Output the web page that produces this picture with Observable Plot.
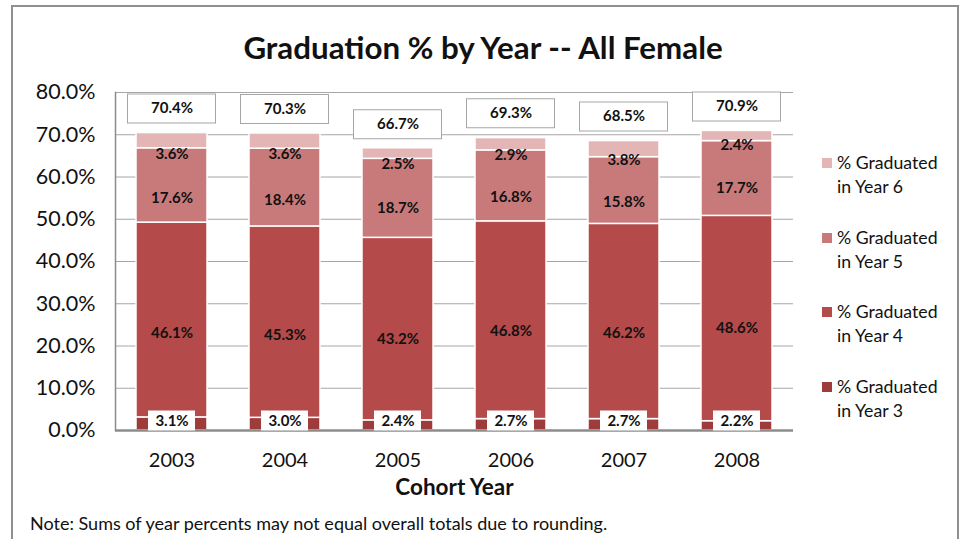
<!DOCTYPE html>
<html>
<head>
<meta charset="utf-8">
<script src="https://cdn.jsdelivr.net/npm/d3@7"></script>
<script src="https://cdn.jsdelivr.net/npm/@observablehq/plot@0.6"></script>
<style>
  body { margin: 0; background: #fff; font-family: Lato, "Open Sans", sans-serif; }
  #wrap { position: relative; width: 966px; height: 539px; overflow: hidden; background: #fff; }
  #frame { position: absolute; left: 11px; top: 5px; width: 948px; height: 560px; border: 2px solid #8f8f8f; box-sizing: border-box; }
  #title { position: absolute; left: 0; width: 966px; top: 27px; text-align: center; font-weight: bold; font-size: 31.3px; color: #111; line-height: 40px; }
  #chart { position: absolute; left: 0; top: 70px; }
  #legend { position: absolute; left: 822px; top: 152px; font-size: 17.7px; color: #111; }
  .item { position: relative; height: 74.5px; }
  .sw { position: absolute; left: 0; top: 6px; width: 10px; height: 10px; }
  .lab { position: absolute; left: 15px; top: -1px; line-height: 24px; white-space: nowrap; }
  #note { position: absolute; left: 30px; top: 512px; font-size: 18px; color: #111; }
</style>
</head>
<body>
<div id="wrap">
  <div id="frame"></div>
  <div id="title">Graduation % by Year -- All Female</div>
  <div id="chart"></div>
  <div id="legend"></div>
  <div id="note">Note: Sums of year percents may not equal overall totals due to rounding.</div>
</div>
<script>
const years = ["2003", "2004", "2005", "2006", "2007", "2008"];
const year3 = [3.1, 3.0, 2.4, 2.7, 2.7, 2.2];
const year4 = [46.1, 45.3, 43.2, 46.8, 46.2, 48.6];
const year5 = [17.6, 18.4, 18.7, 16.8, 15.8, 17.7];
const year6 = [3.6, 3.6, 2.5, 2.9, 3.8, 2.4];
const totals = [70.4, 70.3, 66.7, 69.3, 68.5, 70.9];
const seriesNames = ["% Graduated in Year 3", "% Graduated in Year 4", "% Graduated in Year 5", "% Graduated in Year 6"];
const seriesColors = ["#9e3c3c", "#b44a4a", "#c87a7a", "#e3b5b5"];
const yTicks = [0, 10, 20, 30, 40, 50, 60, 70, 80];

const seriesValues = [year3, year4, year5, year6];
const rows = [];
seriesValues.forEach((vals, si) => {
  years.forEach((y, i) => rows.push({year: y, series: seriesNames[si], value: vals[i]}));
});
const totalRows = years.map((y, i) => ({year: y, total: totals[i]}));
const baseRows = years.map((y, i) => ({year: y, value: year3[i]}));
const upperRows = rows.filter(d => d.series !== seriesNames[0]);

const fmt = v => v.toFixed(1) + "%";

const chart = Plot.plot({
  width: 966,
  height: 430,
  marginLeft: 115,
  marginRight: 173,
  marginTop: 22,
  marginBottom: 70,
  style: {fontFamily: "Lato, 'Open Sans', sans-serif", fontSize: "21.5px", color: "#111", background: "transparent"},
  x: {domain: years, paddingInner: 0.37, paddingOuter: 0.185, label: "Cohort Year", labelAnchor: "center", labelOffset: 64, tickSize: 0, tickPadding: 22},
  y: {domain: [0, 80], ticks: yTicks, tickFormat: fmt, label: null, tickSize: 0, tickPadding: 20},
  color: {domain: seriesNames, range: seriesColors},
  marks: [
    Plot.ruleY(yTicks.filter(t => t > 0), {stroke: "#a6a6a6", strokeWidth: 1}),
    Plot.frame({anchor: "left", stroke: "#8c8c8c", strokeWidth: 1.5}),
    Plot.barY(rows, Plot.stackY({x: "year", y: "value", fill: "series", order: seriesNames, stroke: "white", strokeWidth: 1.5})),
    Plot.ruleY([0], {stroke: "#8c8c8c", strokeWidth: 2.5}),
    Plot.text(upperRows, Plot.stackY({x: "year", y: "value", z: "series", order: seriesNames, text: d => fmt(d.value), fontWeight: "bold", fontSize: 15, fill: "#111"})),
    // base (year 3) labels with white box
    Plot.tickY(baseRows, {x: "year", y: 0, dy: -10, stroke: "white", strokeWidth: 20, insetLeft: 12, insetRight: 12}),
    Plot.text(baseRows, {x: "year", y: 0, dy: -9, text: d => fmt(d.value), fontWeight: "bold", fontSize: 15, fill: "#111"}),
    // total labels with bordered box
    Plot.tickY(totalRows, {x: "year", y: "total", dy: -24.5, stroke: "#a6a6a6", strokeWidth: 30, insetLeft: -9, insetRight: -9}),
    Plot.tickY(totalRows, {x: "year", y: "total", dy: -24.5, stroke: "white", strokeWidth: 28, insetLeft: -8, insetRight: -8}),
    Plot.text(totalRows, {x: "year", y: "total", dy: -24.5, text: d => fmt(d.total), fontWeight: "bold", fontSize: 15, fill: "#111"})
  ]
});
chart.querySelectorAll("g[aria-label='x-axis tick label'] text").forEach(t => t.setAttribute("font-size", "20px"));
chart.querySelectorAll("g[aria-label='x-axis label'] text").forEach(t => { t.setAttribute("font-weight", "bold"); t.setAttribute("font-size", "22.5px"); });
document.getElementById("chart").appendChild(chart);

const legend = document.getElementById("legend");
[3, 2, 1, 0].forEach(i => {
  const item = document.createElement("div");
  item.className = "item";
  const sw = document.createElement("div");
  sw.className = "sw";
  sw.style.background = seriesColors[i];
  const lab = document.createElement("div");
  lab.className = "lab";
  const parts = seriesNames[i].split(" in ");
  lab.innerHTML = parts[0] + "<br>in " + parts[1];
  item.appendChild(sw);
  item.appendChild(lab);
  legend.appendChild(item);
});
</script>
</body>
</html>
